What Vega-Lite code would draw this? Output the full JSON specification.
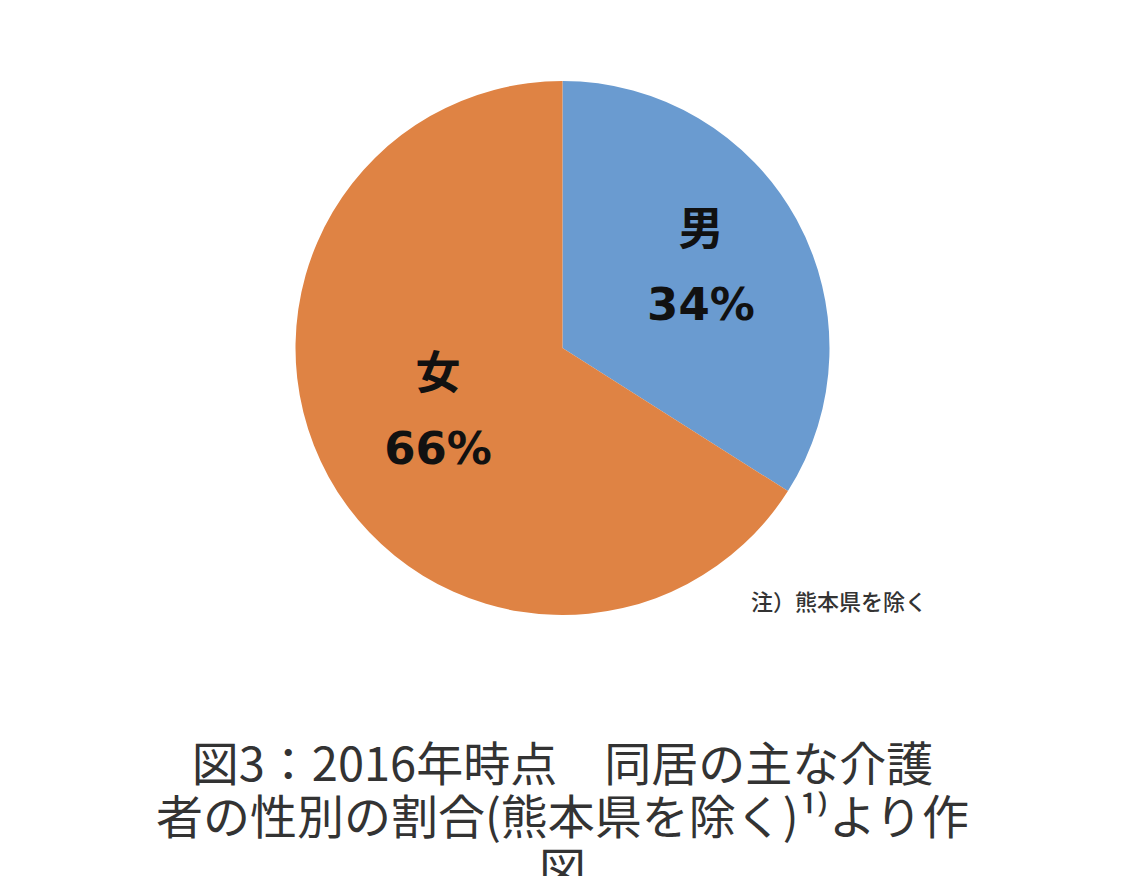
{
  "$schema": "https://vega.github.io/schema/vega-lite/v6.json",
  "width": 1125,
  "height": 696,
  "padding": 0,
  "autosize": {"type": "pad"},
  "background": "white",
  "config": {"view": {"stroke": null}},
  "title": {
    "text": ["図3：2016年時点　同居の主な介護", "者の性別の割合(熊本県を除く)¹⁾より作", "図"],
    "orient": "bottom",
    "anchor": "middle",
    "font": "Noto Sans CJK JP",
    "fontSize": 47,
    "fontWeight": 400,
    "lineHeight": 53,
    "color": "#333333",
    "offset": 48,
    "baseline": "top"
  },
  "data": {
    "values": [
      {"sex": "男", "percent": 34, "order": 1, "label": "男\n34%"},
      {"sex": "女", "percent": 66, "order": 2, "label": "女\n66%"}
    ]
  },
  "encoding": {
    "theta": {"field": "percent", "type": "quantitative", "stack": true},
    "order": {"field": "order", "type": "quantitative"}
  },
  "layer": [
    {
      "mark": {"type": "arc", "outerRadius": 267, "stroke": null},
      "encoding": {
        "color": {
          "field": "sex",
          "type": "nominal",
          "scale": {"domain": ["男", "女"], "range": ["#6A9BD0", "#DF8344"]},
          "legend": null
        }
      }
    },
    {
      "mark": {
        "type": "text",
        "radius": 150,
        "font": "DejaVu Sans, Noto Sans CJK JP",
        "fontSize": 45,
        "fontWeight": "bold",
        "lineBreak": "\n",
        "lineHeight": 75,
        "color": "#111111",
        "align": "center",
        "baseline": "middle",
        "dx": 7,
        "dy": -45
      },
      "encoding": {"text": {"field": "label"}}
    },
    {
      "data": {"values": [{"note": "注）熊本県を除く"}]},
      "mark": {
        "type": "text",
        "font": "Noto Sans CJK JP",
        "fontSize": 22,
        "fontWeight": 500,
        "color": "#333333",
        "align": "left",
        "baseline": "middle"
      },
      "encoding": {
        "text": {"field": "note"},
        "x": {"value": 751},
        "y": {"value": 603},
        "theta": null,
        "order": null
      }
    }
  ]
}
